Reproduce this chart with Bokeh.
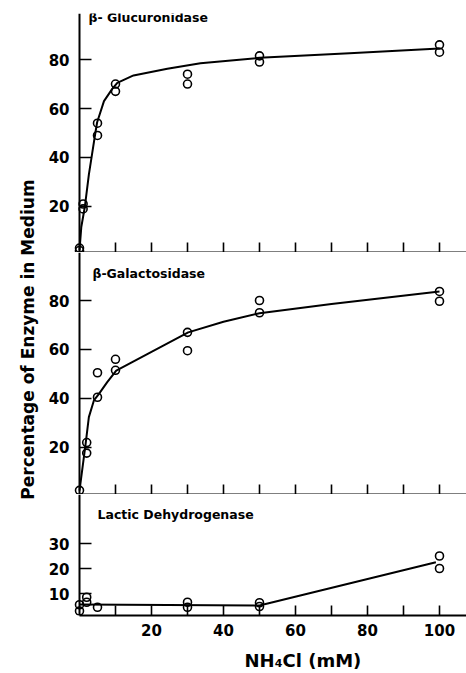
import math
from bokeh.plotting import figure
from bokeh.layouts import column, row
from bokeh.models import Range1d, FixedTicker, Label, LinearAxis
from bokeh.embed import file_html
from bokeh.resources import INLINE

# ---------------- data ----------------
nh4cl_ticks = [20, 40, 60, 80, 100]
nh4cl_minor = [10, 30, 50, 70, 90]
nh4cl_all = [10, 20, 30, 40, 50, 60, 70, 80, 90, 100]

gluc_x = [0, 0, 1, 1, 5, 5, 10, 10, 30, 30, 50, 50, 100, 100]
gluc_y = [3, 2, 21, 19, 54, 49, 70, 67, 74, 70, 81.5, 79, 86, 83]
gluc_curve_x = [0, 0.5, 1.5, 2.6, 3.5, 4.4, 4.9, 6.8, 9.1, 10.5, 15, 24.4, 33.6, 50, 75, 100]
gluc_curve_y = [2, 11.6, 20, 33, 41.5, 50, 54.4, 63, 68, 70.5, 73.5, 76.2, 78.5, 80.7, 82.6, 84.5]

gal_x = [0, 2, 2, 5, 5, 10, 10, 30, 30, 50, 50, 100, 100]
gal_y = [2.5, 22, 17.7, 50.5, 40.5, 56, 51.5, 67, 59.5, 80, 75, 83.7, 79.7]
gal_curve_x = [0, 1.7, 2.6, 4, 5.4, 7.7, 10.2, 20, 30.2, 40, 50, 70, 100]
gal_curve_y = [2.4, 21.5, 32.4, 39.2, 41.9, 46.7, 51.4, 59, 67, 71.3, 74.8, 78.6, 83.7]

ldh_x = [0, 0, 2, 2, 5, 30, 30, 50, 50, 100, 100]
ldh_y = [5.5, 3, 8.5, 6.5, 4.5, 6.5, 4.5, 6.3, 4.8, 25, 20]
ldh_line_x = [0, 50, 99]
ldh_line_y = [5.6, 5.2, 22.5]

gluc_yticks = [20, 40, 60, 80]
gal_yticks = [20, 40, 60, 80]
ldh_yticks = [10, 20, 30]

titles = ["\u03b2- Glucuronidase", "\u03b2-Galactosidase", "Lactic Dehydrogenase"]
y_title = "Percentage of Enzyme in Medium"
x_title = "NH\u2084Cl (mM)"

FONT = "DejaVu Sans"
XR = (-2.5, 107.5)


def style_label_font(ax, size="15px"):
    ax.major_label_text_font = FONT
    ax.major_label_text_font_style = "bold"
    ax.major_label_text_font_size = size
    ax.major_label_text_color = "black"


def make_panel(frame_h, yr, yticks, top_b, bot_b, labels):
    p = figure(frame_width=396, frame_height=frame_h,
               x_range=Range1d(*XR), y_range=Range1d(*yr),
               output_backend="svg", toolbar_location=None,
               min_border_left=30, min_border_right=0,
               min_border_top=top_b, min_border_bottom=bot_b)
    p.outline_line_color = None
    p.grid.visible = False
    p.background_fill_color = "white"
    p.border_fill_color = "white"

    # y tick labels on the standard left axis (line and ticks hidden)
    ya = p.yaxis[0]
    ya.ticker = FixedTicker(ticks=yticks, minor_ticks=[])
    ya.axis_line_color = None
    ya.major_tick_line_color = None
    ya.minor_tick_line_color = None
    ya.major_tick_in = 0
    ya.major_tick_out = 0
    ya.minor_tick_in = 0
    ya.minor_tick_out = 0
    ya.major_label_standoff = 1
    style_label_font(ya)

    # y axis line + inward ticks at x = 0
    yl = LinearAxis(fixed_location=0, ticker=FixedTicker(ticks=[], minor_ticks=yticks))
    yl.axis_line_width = 2
    yl.minor_tick_in = 12
    yl.minor_tick_out = 0
    yl.minor_tick_line_width = 1.6
    yl.minor_tick_line_color = "black"
    yl.major_label_standoff = 0
    p.add_layout(yl, "left")

    xa = p.xaxis[0]
    xa.bounds = (0, XR[1])
    if labels:
        xa.ticker = FixedTicker(ticks=nh4cl_ticks, minor_ticks=nh4cl_minor)
        xa.major_label_standoff = 8
        style_label_font(xa)
    else:
        xa.ticker = FixedTicker(ticks=[], minor_ticks=nh4cl_all)
        xa.major_label_standoff = 0
    xa.major_tick_in = 10
    xa.major_tick_out = 0
    xa.minor_tick_in = 10
    xa.minor_tick_out = 0
    xa.axis_line_width = 2
    xa.major_tick_line_width = 1.6
    xa.minor_tick_line_width = 1.6
    xa.major_tick_line_color = "black"
    xa.minor_tick_line_color = "black"
    return p


def add_series(p, px, py, cx, cy):
    p.line(cx, cy, line_width=2, line_color="black", line_join="round")
    p.scatter(px, py, marker="circle", size=8, fill_alpha=0,
              line_color="black", line_width=1.6)


def add_title(p, x, y, txt):
    p.add_layout(Label(x=x, y=y, text=txt, text_font=FONT, text_font_style="bold",
                       text_font_size="12.5px", text_align="left",
                       text_baseline="middle", text_color="black"))


def blank_strip(w, h, xr, yr):
    s = figure(width=w, height=h, x_range=Range1d(*xr), y_range=Range1d(*yr),
               x_axis_type=None, y_axis_type=None, output_backend="svg",
               toolbar_location=None, min_border=0)
    s.outline_line_color = None
    s.grid.visible = False
    return s


p1 = make_panel(239, (1.2, 98.8), gluc_yticks, 13, 0, False)
add_series(p1, gluc_x, gluc_y, gluc_curve_x, gluc_curve_y)
add_title(p1, 2.5, 97.1, titles[0])

p2 = make_panel(242, (0.8, 99.6), gal_yticks, 0, 0, False)
add_series(p2, gal_x, gal_y, gal_curve_x, gal_curve_y)
add_title(p2, 3.6, 91.0, titles[1])

p3 = make_panel(121, (1.2, 49.6), ldh_yticks, 0, 30, True)
add_series(p3, ldh_x, ldh_y, ldh_line_x, ldh_line_y)
add_title(p3, 5.0, 41.6, titles[2])

# strip under the bottom panel holding the x-axis title
px_title = blank_strip(426, 28, (0, 426), (0, 28))
px_title.add_layout(Label(x=250, y=13, text=x_title, text_font=FONT,
                          text_font_style="bold", text_font_size="18px",
                          text_align="center", text_baseline="middle", text_color="black"))

# strip on the left holding the shared y-axis title
pt = blank_strip(40, 673, (0, 40), (0, 673))
pt.add_layout(Label(x=27, y=334, text=y_title, angle=math.pi / 2, text_font=FONT,
                    text_font_style="bold", text_font_size="17px",
                    text_align="center", text_baseline="middle", text_color="black"))

layout = row(pt, column(p1, p2, p3, px_title, spacing=0), spacing=0)
open("out.html", "w").write(file_html(layout, INLINE))
